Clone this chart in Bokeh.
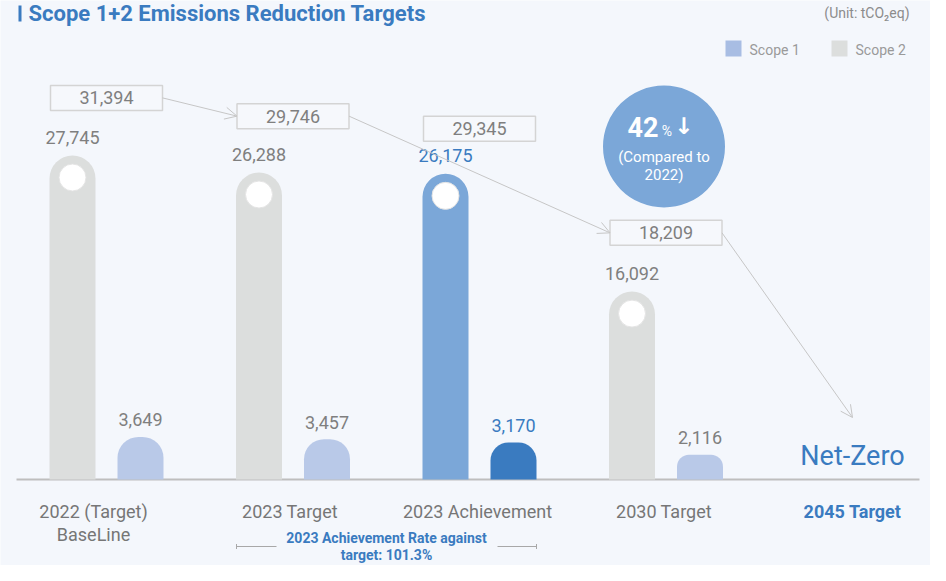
from bokeh.plotting import figure
from bokeh.models import Range1d, Arrow, OpenHead
from bokeh.core.properties import value
from bokeh.embed import file_html
from bokeh.resources import INLINE

# ---------------- data ----------------
categories = ["2022 (Target)\nBaseLine", "2023 Target", "2023 Achievement", "2030 Target", "2045 Target"]
scope2 = [27745, 26288, 26175, 16092]
scope1 = [3649, 3457, 3170, 2116]
totals = [31394, 29746, 29345, 18209]
reduction_pct = "42"
achievement_rate = "101.3%"

# ---------------- layout helpers (page pixels) ----------------
GX0 = 114.0      # page x of first group centre
GSP = 186.5      # px between groups
BASE = 487.0     # page y of baseline
K = 324.0 / 27745.0  # px per tCO2eq


def X(px):
    return (px - GX0) / GSP


def Y(py):
    return (BASE - py) / K


def dx(px):
    return px / GSP


def dy(px):
    return px / K


BG = "#F4F7FC"
GRAY_BAR = "#DCDEDD"
LBLUE = "#B9C9E8"
MBLUE = "#7BA7D8"
DBLUE = "#3A7BC0"
TXT = "#7F7F7F"
FONT = value("Roboto")

p = figure(width=930, height=565, min_border=0, x_axis_type=None, y_axis_type=None,
           x_range=Range1d(X(8), X(938)), y_range=Range1d(Y(573), Y(8)),
           toolbar_location=None, output_backend="svg",
           background_fill_color=BG, border_fill_color=BG, outline_line_color=None)
p.grid.visible = False

n = len(scope2)
groups = list(range(n))
s2_colors = [GRAY_BAR, GRAY_BAR, MBLUE, GRAY_BAR]
s1_colors = [LBLUE, LBLUE, DBLUE, LBLUE]
lab_colors = [TXT, TXT, DBLUE, TXT]
BW = dx(46)
OFF = dx(34)

# baseline
p.segment(x0=[X(24)], y0=[0], x1=[X(927)], y1=[0], line_color="#BEBEBE", line_width=2)

# bars
for i in groups:
    p.vbar(x=[i - OFF], top=[scope2[i]], bottom=[0], width=BW, fill_color=s2_colors[i],
           line_color=None, border_radius=(23, 23, 0, 0))
    h1 = scope1[i] * K
    r = int(min(23, h1 * 0.5))
    p.vbar(x=[i + OFF], top=[scope1[i]], bottom=[0], width=BW, fill_color=s1_colors[i],
           line_color=None, border_radius=(r, r, 0, 0))

# white dots on scope 2 bars
p.scatter(x=[i - OFF for i in groups], y=[v - dy(22) for v in scope2], size=27,
          fill_color="white", line_color="#E4E4E4", line_width=1)

# value labels
p.text(x=[i - OFF for i in groups], y=scope2, text=[f"{v:,}" for v in scope2],
       y_offset=-18, text_align="center", text_baseline="middle", text_font=FONT,
       text_font_size="18px", text_color=lab_colors)
p.text(x=[i + OFF for i in groups], y=scope1, text=[f"{v:,}" for v in scope1],
       y_offset=-17, text_align="center", text_baseline="middle", text_font=FONT,
       text_font_size="18px", text_color=lab_colors)

# total boxes
lift = [15, 16, 8, 34]
box_y = [t + dy(l) for t, l in zip(totals, lift)]
BOXW = dx(112)
p.rect(x=groups, y=box_y, width=BOXW, height=dy(25), fill_color="#F6F8FC",
       line_color="#D4D4D4", line_width=1.5)
p.text(x=groups, y=box_y, text=[f"{v:,}" for v in totals], text_align="center",
       text_baseline="middle", text_font=FONT, text_font_size="18px", text_color=TXT)

# arrows between totals
ACOL = "#C6C6C6"
links = [(0, 1), (1, 3)]
for a, b in links:
    p.add_layout(Arrow(end=OpenHead(size=12, line_color=ACOL, line_width=1),
                       x_start=a + BOXW / 2, y_start=box_y[a],
                       x_end=b - BOXW / 2, y_end=box_y[b],
                       line_color=ACOL, line_width=1))
p.add_layout(Arrow(end=OpenHead(size=12, line_color=ACOL, line_width=1),
                   x_start=3 + BOXW / 2, y_start=box_y[3],
                   x_end=4, y_end=dy(62), line_color=ACOL, line_width=1))

# Net-Zero
p.text(x=[4], y=[dy(24)], text=["Net-Zero"], text_align="center", text_baseline="middle",
       text_font=FONT, text_font_size="27px", text_color=DBLUE)

# reduction bubble
cx, cy = 3 + dx(-2), dy(333)
p.scatter(x=[cx], y=[cy], size=122, fill_color=MBLUE, line_color=None)
p.text(x=[cx + dx(-21)], y=[cy + dy(20)], text=[reduction_pct], text_align="center",
       text_baseline="middle", text_font=FONT, text_font_size="27px",
       text_font_style="bold", text_color="white")
p.text(x=[cx + dx(3)], y=[cy + dy(16)], text=["%"], text_align="center",
       text_baseline="middle", text_font=FONT, text_font_size="14px", text_color="white")
p.text(x=[cx + dx(20)], y=[cy + dy(21)], text=["↓"], text_align="center",
       text_baseline="middle", text_font=value("DejaVu Sans"), text_font_size="23px",
       text_font_style="bold", text_color="white")
p.text(x=[cx, cx], y=[cy - dy(10), cy - dy(28)], text=["(Compared to", "2022)"],
       text_align="center", text_baseline="middle", text_font=FONT,
       text_font_size="15px", text_color="white")

# category labels
cat_x = list(range(len(categories)))
cat_off = [-13, -3, -2, -2, 0]
p.text(x=cat_x[:-1], y=[Y(508)] * (len(categories) - 1), text=categories[:-1],
       x_offset=cat_off[:-1], text_align="center", text_baseline="top", text_font=FONT,
       text_font_size="18px", text_color="#767676", text_line_height=1.1)
p.text(x=cat_x[-1:], y=[Y(508)], text=categories[-1:], text_align="center",
       text_baseline="top", text_font=FONT, text_font_size="18px",
       text_font_style="bold", text_color=DBLUE)

# achievement rate note
p.text(x=[X(394), X(394)], y=[Y(545), Y(562)],
       text=["2023 Achievement Rate against", f"target: {achievement_rate}"],
       text_align="center", text_baseline="middle", text_font=FONT,
       text_font_size="14px", text_font_style="bold", text_color=DBLUE)
p.segment(x0=[X(244), X(505), X(244), X(544)], y0=[Y(554), Y(554), Y(551.5), Y(551.5)],
          x1=[X(284), X(544), X(244), X(544)], y1=[Y(554), Y(554), Y(556.5), Y(556.5)],
          line_color="#A8A8A8", line_width=1)

# title
p.segment(x0=[X(27.5)], y0=[Y(13)], x1=[X(27.5)], y1=[Y(29)], line_color=DBLUE, line_width=3)
p.text(x=[X(36)], y=[Y(21)], text=["Scope 1+2 Emissions Reduction Targets"],
       text_align="left", text_baseline="middle", text_font=FONT, text_font_size="22px",
       text_font_style="bold", text_color=DBLUE)

# unit
p.text(x=[X(917)], y=[Y(20)], text=["(Unit: tCO₂eq)"], text_align="right",
       text_baseline="middle", text_font=FONT, text_font_size="14px", text_color="#8C8C8C")

# legend
p.scatter(x=[X(741), X(847)], y=[Y(56), Y(56)], marker="square", size=16,
          fill_color=["#A8BDE3", GRAY_BAR], line_color=None)
p.text(x=[X(757), X(863)], y=[Y(57), Y(57)], text=["Scope 1", "Scope 2"],
       text_align="left", text_baseline="middle", text_font=FONT, text_font_size="14px",
       text_color="#9A9A9A")

html = file_html(p, INLINE)
html = html.replace("<body>", f'<body style="background-color:{BG};">', 1)
open("out.html", "w").write(html)
